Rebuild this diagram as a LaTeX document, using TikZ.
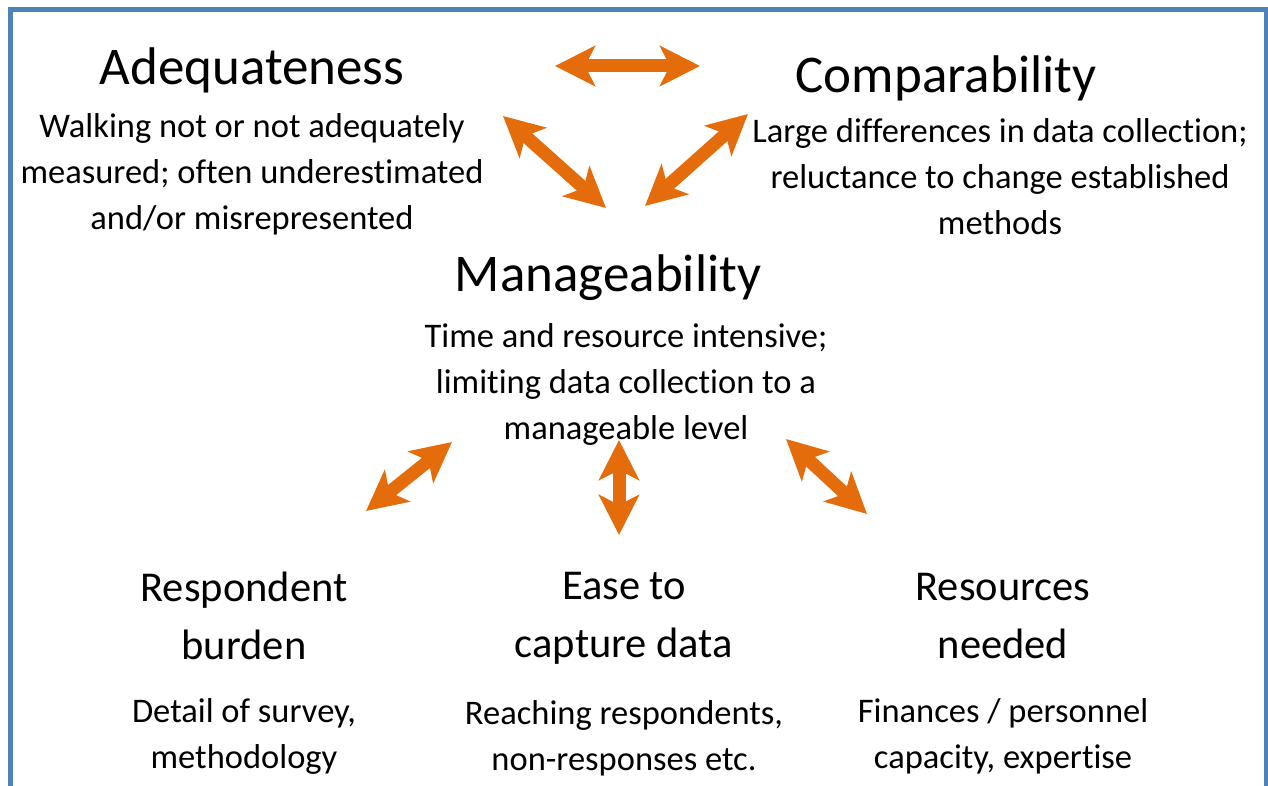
\documentclass[tikz,border=0pt]{standalone}
\usepackage{fontspec}
\setmainfont{Carlito}[Ligatures={NoCommon,NoContextual},Contextuals=NoAlternate]
\usetikzlibrary{arrows.meta,positioning}
\definecolor{frameblue}{RGB}{79,129,189}
\definecolor{linkorange}{RGB}{228,108,10}

\begin{document}
\begin{tikzpicture}[x=0.5pt,y=-0.5pt,
    head/.style={font=\fontsize{26.5}{30}\selectfont, inner sep=0pt},
    subhead/.style={font=\fontsize{21.25}{29}\selectfont, align=center, inner sep=0pt},
    body/.style={font=\fontsize{17.25}{23}\selectfont, align=center, inner sep=0pt},
    link/.style={draw=linkorange, line width=6.5pt,
      {Stealth[length=20pt,width=20pt,inset=5pt]}-{Stealth[length=20pt,width=20pt,inset=5pt]}}]
  \useasboundingbox (0,0) rectangle (1268,786);
  \draw[frameblue, line width=2.5pt] (10.5,820) -- (10.5,10) -- (1266,10) -- (1266,820);

  % top row
  \node[head] (adeq) at (252,70) {Adequateness};
  \node[body] (adeqtxt) at (252,174) {Walking not or not adequately\\measured; often underestimated\\and/or misrepresented};
  \node[head] (comp) at (946,78) {Comparability};
  \node[body] (comptxt) at (1000,177) {Large differences in data collection;\\reluctance to change established\\methods};

  % centre
  \node[head] (manage) at (608,278) {Manageability};
  \node[body] (managetxt) at (626,384) {Time and resource intensive;\\limiting data collection to a\\manageable level};

  % bottom row
  \node[subhead] (resp) at (244,616) {Respondent\\burden};
  \node[body] (resptxt) at (244,736) {Detail of survey,\\methodology};
  \node[subhead] (ease) at (624,618) {Ease to\\capture data};
  \node[body] (easetxt) at (624,738) {Reaching respondents,\\non-responses etc.};
  \node[subhead] (res) at (1003,616) {Resources\\needed};
  \node[body] (restxt) at (1003,736) {Finances / personnel\\capacity, expertise};

  % arrow ends
  \coordinate (t1) at (555,66);   \coordinate (t2) at (700,66);
  \coordinate (a1) at (503,116);  \coordinate (a2) at (606,208);
  \coordinate (c1) at (748,114);  \coordinate (c2) at (645,206);
  \coordinate (r1) at (452,442);  \coordinate (r2) at (366,511);
  \coordinate (e1) at (619,440);  \coordinate (e2) at (619,535);
  \coordinate (s1) at (786,439);  \coordinate (s2) at (867,514);

  \draw[link] (t1) -- (t2);
  \draw[link] (a1) -- (a2);
  \draw[link] (c1) -- (c2);
  \draw[link] (r1) -- (r2);
  \draw[link] (e1) -- (e2);
  \draw[link] (s1) -- (s2);
\end{tikzpicture}
\end{document}
